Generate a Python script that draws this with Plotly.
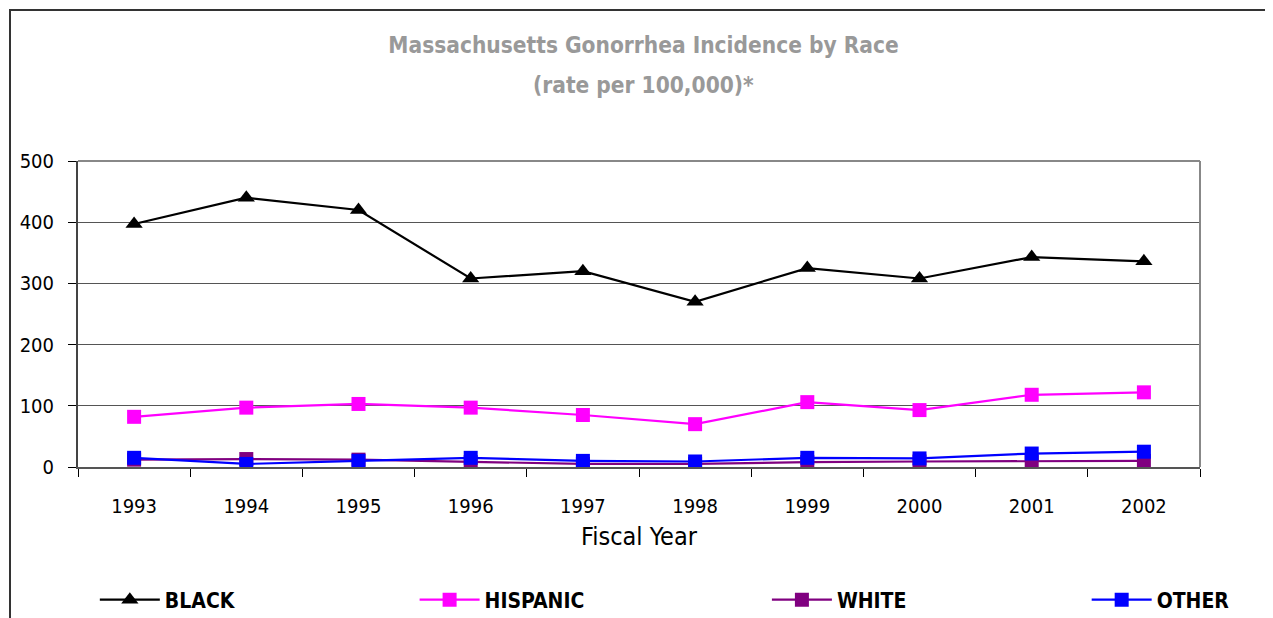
import plotly.graph_objects as go

years = ["1993", "1994", "1995", "1996", "1997", "1998", "1999", "2000", "2001", "2002"]
black = [397, 440, 420, 308, 320, 270, 325, 308, 343, 336]
hispanic = [82, 97, 103, 97, 85, 70, 106, 93, 118, 122]
white = [12, 13, 12, 8, 5, 5, 8, 9, 9, 10]
other = [15, 5, 10, 15, 10, 9, 15, 14, 22, 25]
y_ticks = [0, 100, 200, 300, 400, 500]

FONT = "DejaVu Sans Condensed, Liberation Sans Narrow, sans-serif"

fig = go.Figure()
series = [
    ("BLACK", black, "#000000", "triangle-up", 15, "legend", 0.015),
    ("HISPANIC", hispanic, "#FF00FF", "square", 14, "legend2", 0.300),
    ("WHITE", white, "#800080", "square", 14, "legend3", 0.614),
    ("OTHER", other, "#0000FF", "square", 14, "legend4", 0.899),
]
legend_layout = {}
for name, vals, col, sym, sz, leg, lx in series:
    fig.add_trace(go.Scatter(
        x=years, y=vals, name=name, mode="lines+markers",
        line=dict(color=col, width=2.2),
        marker=dict(symbol=sym, size=sz, color=col),
        legend=leg, showlegend=True,
    ))
    legend_layout[leg] = dict(
        orientation="h", x=lx, xanchor="left", yref="container", y=0.042,
        yanchor="middle", itemwidth=60, bgcolor="rgba(0,0,0,0)",
        font=dict(family=FONT, size=21, color="#000000", weight="bold"),
    )

fig.update_layout(
    width=1273, height=618,
    paper_bgcolor="white", plot_bgcolor="white",
    margin=dict(l=70, r=81, t=153, b=159, autoexpand=False),
    title=dict(
        text="Massachusetts Gonorrhea Incidence by Race",
        x=0.504, xref="paper", xanchor="center",
        yref="container", y=0.940, yanchor="middle",
        font=dict(family=FONT, size=22.5, color="#999999", weight="bold"),
    ),
    font=dict(family=FONT, size=20, color="#000000"),
    **legend_layout,
)
fig.add_annotation(
    text="(rate per 100,000)*", xref="paper", yref="paper",
    x=0.504, y=(467 - 85) / 306, xanchor="center", yanchor="middle",
    showarrow=False,
    font=dict(family=FONT, size=22.5, color="#999999", weight="bold"),
)
fig.update_xaxes(
    type="category", tickson="boundaries", ticks="outside", ticklen=8,
    tickcolor="#000000", showline=True, linecolor="#555555", linewidth=2,
    mirror=False, showgrid=False, ticklabelstandoff=20,
    tickfont=dict(family=FONT, size=20),
    title=dict(text="Fiscal Year", font=dict(family=FONT, size=25), standoff=10),
    range=[-0.5, 9.5],
)
fig.update_yaxes(
    range=[0, 500], tickvals=y_ticks, ticks="outside", ticklen=8,
    tickcolor="#000000", showline=True, linecolor="#444444", linewidth=2,
    showgrid=True, gridcolor="#555555", gridwidth=1, zeroline=False,
    ticklabelstandoff=10,
    tickfont=dict(family=FONT, size=20),
)
# plot-area gray border on top and right
fig.add_shape(type="line", xref="paper", yref="paper", x0=0, x1=1, y0=1, y1=1,
              line=dict(color="#888888", width=2))
fig.add_shape(type="line", xref="paper", yref="paper", x0=1, x1=1, y0=0, y1=1,
              line=dict(color="#888888", width=2))
# outer chart frame (left and top edges visible)
fig.add_shape(type="rect", xref="paper", yref="paper",
              x0=(10 - 78) / 1122, x1=(1300 - 78) / 1122,
              y0=(467 - 700) / 306, y1=(467 - 10) / 306,
              line=dict(color="#333333", width=2), layer="below")

fig.write_html("out.html")
